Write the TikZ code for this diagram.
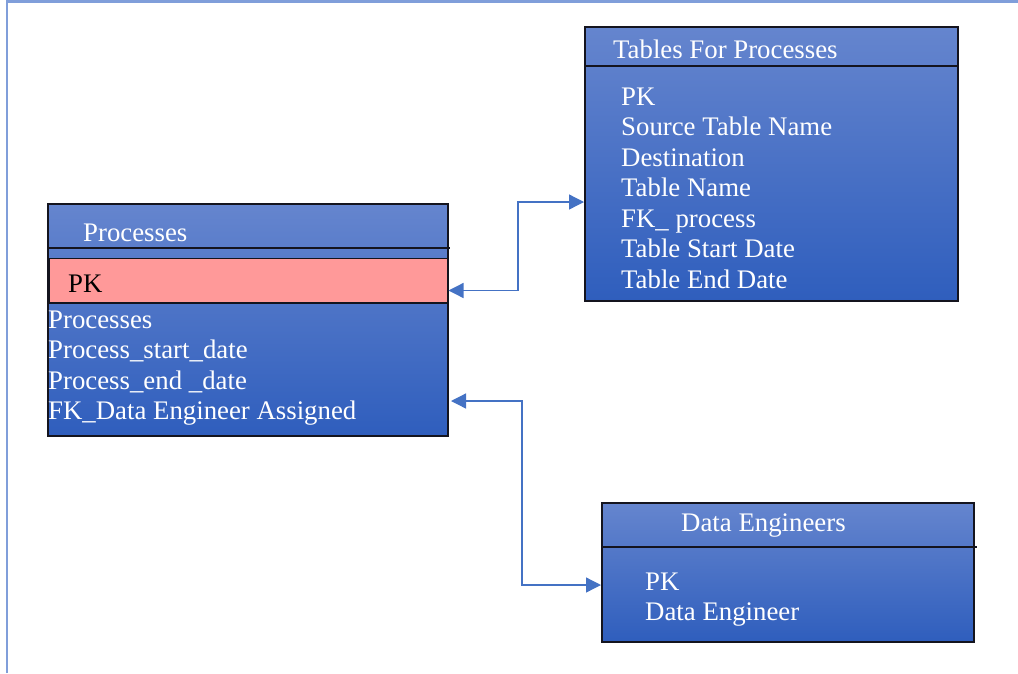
\documentclass[tikz,border=0pt]{standalone}
\usepackage{fontspec}
\setmainfont{Liberation Serif}
\usetikzlibrary{arrows.meta,calc}
\definecolor{boxtop}{RGB}{101,133,206}
\definecolor{boxbot}{RGB}{47,94,189}
\definecolor{pinkrow}{RGB}{255,153,153}
\definecolor{connc}{RGB}{68,114,196}
\definecolor{framec}{RGB}{128,158,218}
\definecolor{edgec}{RGB}{20,20,30}
\begin{document}
\begin{tikzpicture}[x=1pt,y=-1pt,
  entity/.style={draw=edgec,line width=1.5pt,top color=boxtop,bottom color=boxbot,inner sep=0,anchor=north west},
  pinkbox/.style={draw=edgec,line width=1.5pt,fill=pinkrow,inner sep=0,anchor=north west},
  divider/.style={draw=edgec,line width=1.5pt},
  lbl/.style={text=white,font=\fontsize{26.8}{30}\selectfont,inner sep=0,anchor=base west},
  blbl/.style={lbl,text=black},
  link/.style={draw=connc,line width=1.3pt,{Triangle[length=15pt,width=15pt]}-{Triangle[length=15pt,width=15pt]}},
  framel/.style={draw=framec,line width=2.5pt}]
\useasboundingbox (0,0) rectangle (1018,673);
\draw[framel] (7,673) -- (7,1.5) -- (1018,1.5);

% Processes
\node[entity,minimum width=400pt,minimum height=232pt] (proc) at (47,203) {};
\draw[divider] (47,248) -- (450,248);
\node[pinkbox,minimum width=399pt,minimum height=44.5pt] (pk) at (48,257.5) {};
\node[lbl] (proct) at (83,241) {Processes};
\node[blbl] (pkt) at (68,292) {PK};
\node[lbl] (r1) at (48,328) {Processes};
\node[lbl] (r2) at (48,358.5) {Process\_start\_date};
\node[lbl] (r3) at (48,389) {Process\_end \_date};
\node[lbl] (r4) at (48,419.5) {FK\_Data Engineer Assigned};

% Tables For Processes
\node[entity,minimum width=373pt,minimum height=274pt] (tfp) at (584,26) {};
\draw[divider] (584,66) -- (957,66);
\node[lbl] (tfpt) at (613,58) {Tables For Processes};
\node[lbl] (t1) at (621,105) {PK};
\node[lbl] (t2) at (621,135.5) {Source Table Name};
\node[lbl] (t3) at (621,166) {Destination};
\node[lbl] (t4) at (621,196.5) {Table Name};
\node[lbl] (t5) at (621,227) {FK\_ process};
\node[lbl] (t6) at (621,257.5) {Table Start Date};
\node[lbl] (t7) at (621,288) {Table End Date};

% Data Engineers
\node[entity,minimum width=372pt,minimum height=139pt] (de) at (601,502) {};
\draw[divider] (603,547) -- (977,547);
\node[lbl] (det) at (681,531) {Data Engineers};
\node[lbl] (d1) at (645,590) {PK};
\node[lbl] (d2) at (645,620.5) {Data Engineer};

% connectors
\coordinate (j1) at (518,202);
\draw[link] ($(pk.south east)+(0,-13)$) -| (j1) -- (j1 -| tfp.west);
\coordinate (p2) at (451,401);
\coordinate (j2) at (522,585);
\draw[link] (p2) -| (j2) -- (j2 -| de.west);
\end{tikzpicture}
\end{document}
